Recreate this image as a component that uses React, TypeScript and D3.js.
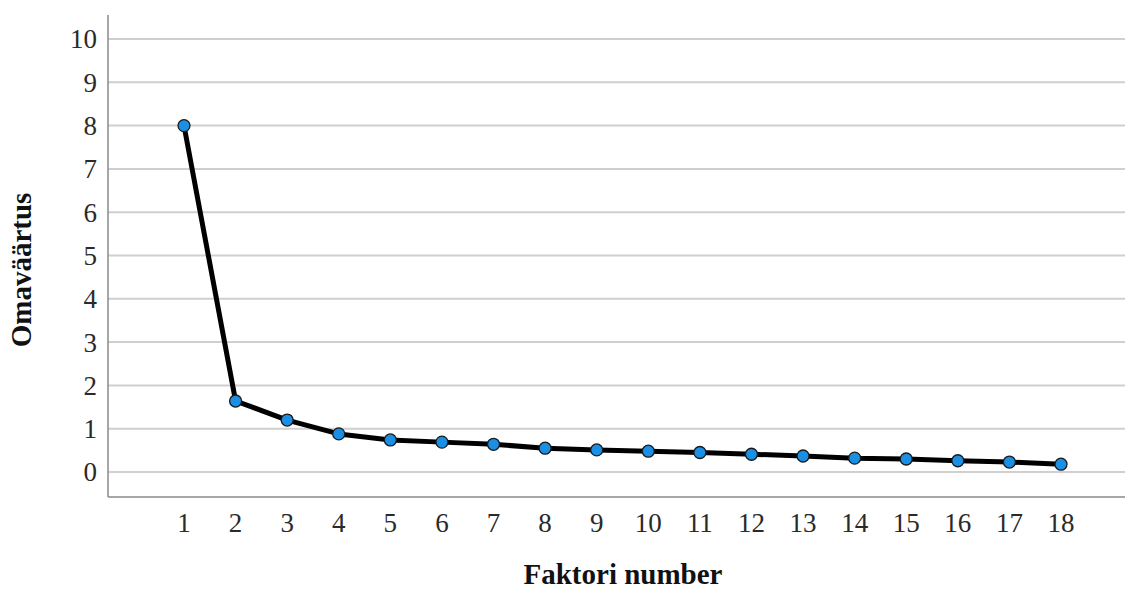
import React from "react"
import * as d3 from "d3"

const factors = [1, 2, 3, 4, 5, 6, 7, 8, 9, 10, 11, 12, 13, 14, 15, 16, 17, 18]
const eigenvalues = [8.0, 1.64, 1.2, 0.88, 0.74, 0.69, 0.64, 0.55, 0.51, 0.48, 0.45, 0.41, 0.37, 0.32, 0.3, 0.26, 0.23, 0.18]
const yTicks = [0, 1, 2, 3, 4, 5, 6, 7, 8, 9, 10]

const W = 1125
const H = 597

export default function App() {
  const axisLeft = 108
  const axisBottom = 497
  const axisTop = 15

  const x = d3.scaleLinear().domain([1, 18]).range([184, 1061])
  const y = d3.scaleLinear().domain([0, 10]).range([472, 39])

  const line = d3
    .line<number>()
    .x((d, i) => x(factors[i]))
    .y(d => y(d))

  const font = "Liberation Serif, Times New Roman, serif"

  return (
    <svg width={W} height={H} style={{ position: "absolute", left: 0, top: 0, background: "#fff" }}>
      {/* gridlines */}
      <g>
        {yTicks.map(t => (
          <line key={t} x1={axisLeft} x2={W} y1={y(t)} y2={y(t)} stroke="#cfcfcf" strokeWidth={2} />
        ))}
      </g>
      {/* axes */}
      <line x1={axisLeft} x2={axisLeft} y1={axisTop} y2={axisBottom} stroke="#8a8a8a" strokeWidth={1.5} />
      <line x1={axisLeft} x2={W} y1={axisBottom} y2={axisBottom} stroke="#8a8a8a" strokeWidth={1.5} />
      {/* y tick labels */}
      <g fontFamily={font} fontSize={27} fill="#2a2a2a" textAnchor="end">
        {yTicks.map(t => (
          <text key={t} x={97} y={y(t)} dy="0.35em">{t}</text>
        ))}
      </g>
      {/* x tick labels */}
      <g fontFamily={font} fontSize={27} fill="#2a2a2a" textAnchor="middle">
        {factors.map(f => (
          <text key={f} x={x(f)} y={523} dy="0.35em">{f}</text>
        ))}
      </g>
      {/* line + points */}
      <path d={line(eigenvalues) || ""} fill="none" stroke="#000" strokeWidth={5} strokeLinejoin="round" />
      <g>
        {eigenvalues.map((v, i) => (
          <circle key={i} cx={x(factors[i])} cy={y(v)} r={6} fill="#1a8fe3" stroke="#1a1a1a" strokeWidth={1.3} />
        ))}
      </g>
      {/* titles */}
      <text x={623} y={584} textAnchor="middle" fontFamily={font} fontSize={29} fontWeight="bold" fill="#111">
        Faktori number
      </text>
      <text
        transform={`translate(31,270) rotate(-90)`}
        textAnchor="middle"
        fontFamily={font}
        fontSize={29}
        fontWeight="bold"
        fill="#111"
      >
        Omaväärtus
      </text>
    </svg>
  )
}
